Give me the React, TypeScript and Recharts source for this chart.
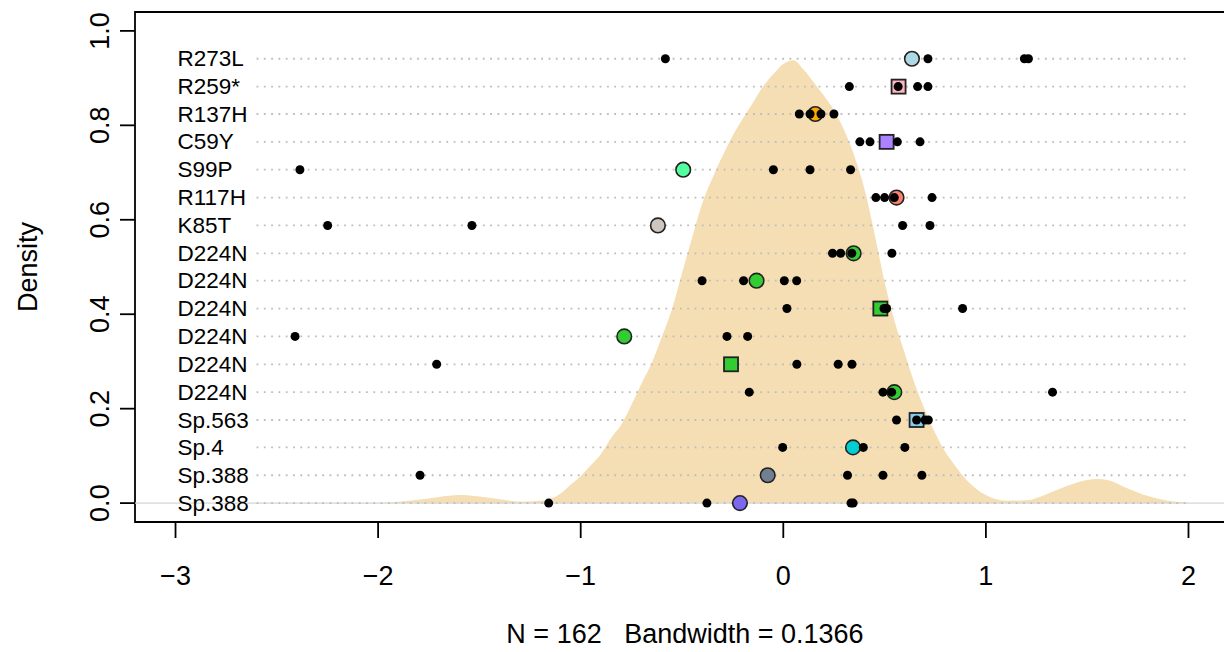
import React from 'react'
import { ComposedChart, Area, Scatter, XAxis, YAxis, ReferenceLine, ReferenceArea } from 'recharts'

// kernel density curve
const densityX = [
  -2.0, -1.9, -1.8, -1.7, -1.6, -1.5, -1.4, -1.3, -1.2, -1.1, -1.05, -1.0, -0.95, -0.9, -0.85, -0.8,
  -0.75, -0.7, -0.65, -0.6, -0.55, -0.5, -0.45, -0.4, -0.35, -0.3, -0.25, -0.2, -0.15, -0.1, -0.05,
  0, 0.05, 0.1, 0.15, 0.2, 0.25, 0.3, 0.35, 0.4, 0.45, 0.5, 0.55, 0.6, 0.65, 0.7, 0.75, 0.8, 0.85,
  0.9, 0.95, 1.0, 1.1, 1.2, 1.3, 1.4, 1.5, 1.55, 1.6, 1.7, 1.8, 1.9, 2.0,
]
const densityY = [
  0.0, 0.003, 0.007, 0.013, 0.017, 0.014, 0.008, 0.003, 0.005, 0.02, 0.039, 0.057, 0.08, 0.104, 0.138, 0.166,
  0.208, 0.253, 0.296, 0.351, 0.41, 0.487, 0.562, 0.635, 0.688, 0.735, 0.778, 0.814, 0.848, 0.882, 0.908,
  0.93, 0.938, 0.918, 0.891, 0.863, 0.832, 0.79, 0.736, 0.666, 0.571, 0.468, 0.384, 0.317, 0.251, 0.196, 0.148, 0.108, 0.078,
  0.051, 0.031, 0.017, 0.005, 0.006, 0.019, 0.036, 0.049, 0.051, 0.049, 0.031, 0.015, 0.005, 0.001,
]

const rowLabels = [
  'R273L', 'R259*', 'R137H', 'C59Y', 'S99P', 'R117H', 'K85T',
  'D224N', 'D224N', 'D224N', 'D224N', 'D224N', 'D224N',
  'Sp.563', 'Sp.4', 'Sp.388', 'Sp.388',
]
const rowLevels = [0.941, 0.882, 0.824, 0.765, 0.706, 0.647, 0.588, 0.529, 0.471, 0.412, 0.353, 0.294, 0.235, 0.176, 0.118, 0.059, 0]

// small black points per row
const rowDots = [
  [-0.582, 0.714, 1.19, 1.21],
  [0.326, 0.567, 0.663, 0.714],
  [0.079, 0.132, 0.186, 0.25],
  [0.378, 0.428, 0.563, 0.675],
  [-2.386, -0.049, 0.132, 0.332],
  [0.457, 0.5, 0.548, 0.734],
  [-2.249, -1.537, 0.589, 0.724],
  [0.243, 0.283, 0.338, 0.536],
  [-0.401, -0.196, 0.005, 0.066],
  [0.018, 0.497, 0.51, 0.885],
  [-2.41, -0.278, -0.176],
  [-1.711, 0.067, 0.271, 0.339],
  [-0.168, 0.492, 0.535, 1.329],
  [0.559, 0.658, 0.7, 0.716],
  [-0.003, 0.395, 0.6],
  [-1.793, 0.317, 0.492, 0.684],
  [-1.158, -0.377, 0.334, 0.345],
]

// highlighted point per row
const markX = [0.635, 0.569, 0.158, 0.51, -0.494, 0.559, -0.619, 0.347, -0.132, 0.479, -0.785, -0.258, 0.548, 0.658, 0.344, -0.077, -0.214]
const markShape = ['circle', 'square', 'circle', 'square', 'circle', 'circle', 'circle', 'circle', 'circle', 'square', 'circle', 'square', 'circle', 'square', 'circle', 'circle', 'circle']
const markColor = [
  '#ADD8E6', '#FFB6C1', '#FFA500', '#AB82FF', '#54FF9F', '#FA8072', '#CDC5BF',
  '#32CD32', '#32CD32', '#32CD32', '#32CD32', '#32CD32', '#32CD32',
  '#87CEEB', '#00CED1', '#708090', '#7B68EE',
]

const xTicks = [-3, -2, -1, 0, 1, 2]
const yTicks = [0, 0.2, 0.4, 0.6, 0.8, 1.0]

const FONT = '"Liberation Sans", Arial, Helvetica, sans-serif'

const densityData = densityX.map((x, i) => ({ x, y: densityY[i] }))
const labelData = rowLabels.map((label, i) => ({ x: -3, y: rowLevels[i], label }))
const dotData = rowDots.flatMap((xs, i) => xs.map(x => ({ x, y: rowLevels[i] })))
const circleData = markX
  .map((x, i) => ({ x, y: rowLevels[i], color: markColor[i], shape: markShape[i] }))
  .filter(d => d.shape === 'circle')
const squareData = markX
  .map((x, i) => ({ x, y: rowLevels[i], color: markColor[i], shape: markShape[i] }))
  .filter(d => d.shape === 'square')

const fmtX = (v: number) => (v < 0 ? '\u2212' + Math.abs(v) : String(v))

const XTick = (props: any) => (
  <text x={props.x} y={576} textAnchor="middle" dominantBaseline="central" fontSize={27} fill="#000" fontFamily={FONT}>
    {fmtX(props.payload.value)}
  </text>
)

const YTick = (props: any) => (
  <text
    x={100}
    y={props.y}
    transform={`rotate(-90 100 ${props.y})`}
    textAnchor="middle"
    dominantBaseline="central"
    fontSize={27}
    fill="#000"
    fontFamily={FONT}
  >
    {Number(props.payload.value).toFixed(1)}
  </text>
)

export default function App() {
  return (
    <div style={{ position: 'fixed', left: 0, top: 0, width: 1224, height: 652, overflow: 'hidden', background: '#fff', fontFamily: FONT }}>
      <ComposedChart width={1240} height={652} data={densityData} margin={{ top: 12, right: 11, bottom: 0, left: 0 }}>
        <XAxis
          type="number"
          dataKey="x"
          domain={[-3.2, 2.2]}
          ticks={xTicks}
          allowDataOverflow
          height={130}
          axisLine={false}
          tickSize={16}
          tickLine={{ stroke: '#000', strokeWidth: 1.8 }}
          tick={<XTick />}
          label={{
            content: () => (
              <text
                x={685}
                y={634}
                textAnchor="middle"
                dominantBaseline="central"
                fontSize={27}
                fill="#000"
                fontFamily={FONT}
                style={{ whiteSpace: 'pre' }}
                xmlSpace="preserve"
              >
                {'N = 162   Bandwidth = 0.1366'}
              </text>
            ),
          }}
        />
        <YAxis
          type="number"
          dataKey="y"
          domain={[-0.04, 1.04]}
          ticks={yTicks}
          allowDataOverflow
          width={135}
          axisLine={false}
          tickSize={15}
          tickLine={{ stroke: '#000', strokeWidth: 1.8 }}
          tick={<YTick />}
          label={{
            content: () => (
              <text x={28} y={267} transform="rotate(-90 28 267)" textAnchor="middle" dominantBaseline="central" fontSize={27} fill="#000" fontFamily={FONT}>
                Density
              </text>
            ),
          }}
        />
        <Area
          type="monotone"
          dataKey="y"
          baseValue={0}
          stroke="none"
          fill="#F5DEB3"
          fillOpacity={1}
          isAnimationActive={false}
        />
        <ReferenceLine y={0} stroke="#d6d6d6" strokeWidth={1.2} />
        {rowLevels.map((lv, i) => (
          <ReferenceLine
            key={i}
            segment={[{ x: -2.6, y: lv }, { x: 2.0, y: lv }]}
            stroke="#bdbdbd"
            strokeWidth={1.8}
            strokeDasharray="1.8 5.5"
          />
        ))}
        <Scatter
          data={labelData}
          isAnimationActive={false}
          shape={(p: any) => (
            <text x={p.cx + 2} y={p.cy} textAnchor="start" dominantBaseline="central" fontSize={22.5} fill="#000" fontFamily={FONT}>
              {p.payload.label}
            </text>
          )}
        />
        <Scatter
          data={circleData}
          isAnimationActive={false}
          shape={(p: any) => <circle cx={p.cx} cy={p.cy} r={7.3} fill={p.payload.color} stroke="#222" strokeWidth={1.6} />}
        />
        <Scatter
          data={squareData}
          isAnimationActive={false}
          shape={(p: any) => (
            <rect x={p.cx - 7} y={p.cy - 7} width={14} height={14} fill={p.payload.color} stroke="#222" strokeWidth={1.8} />
          )}
        />
        <Scatter
          data={dotData}
          isAnimationActive={false}
          shape={(p: any) => <circle cx={p.cx} cy={p.cy} r={4.5} fill="#000" />}
        />
        <ReferenceArea x1={-3.2} x2={2.2} y1={-0.04} y2={1.04} fill="none" fillOpacity={0} stroke="#000" strokeWidth={1.8} ifOverflow="visible" />
      </ComposedChart>
    </div>
  )
}
